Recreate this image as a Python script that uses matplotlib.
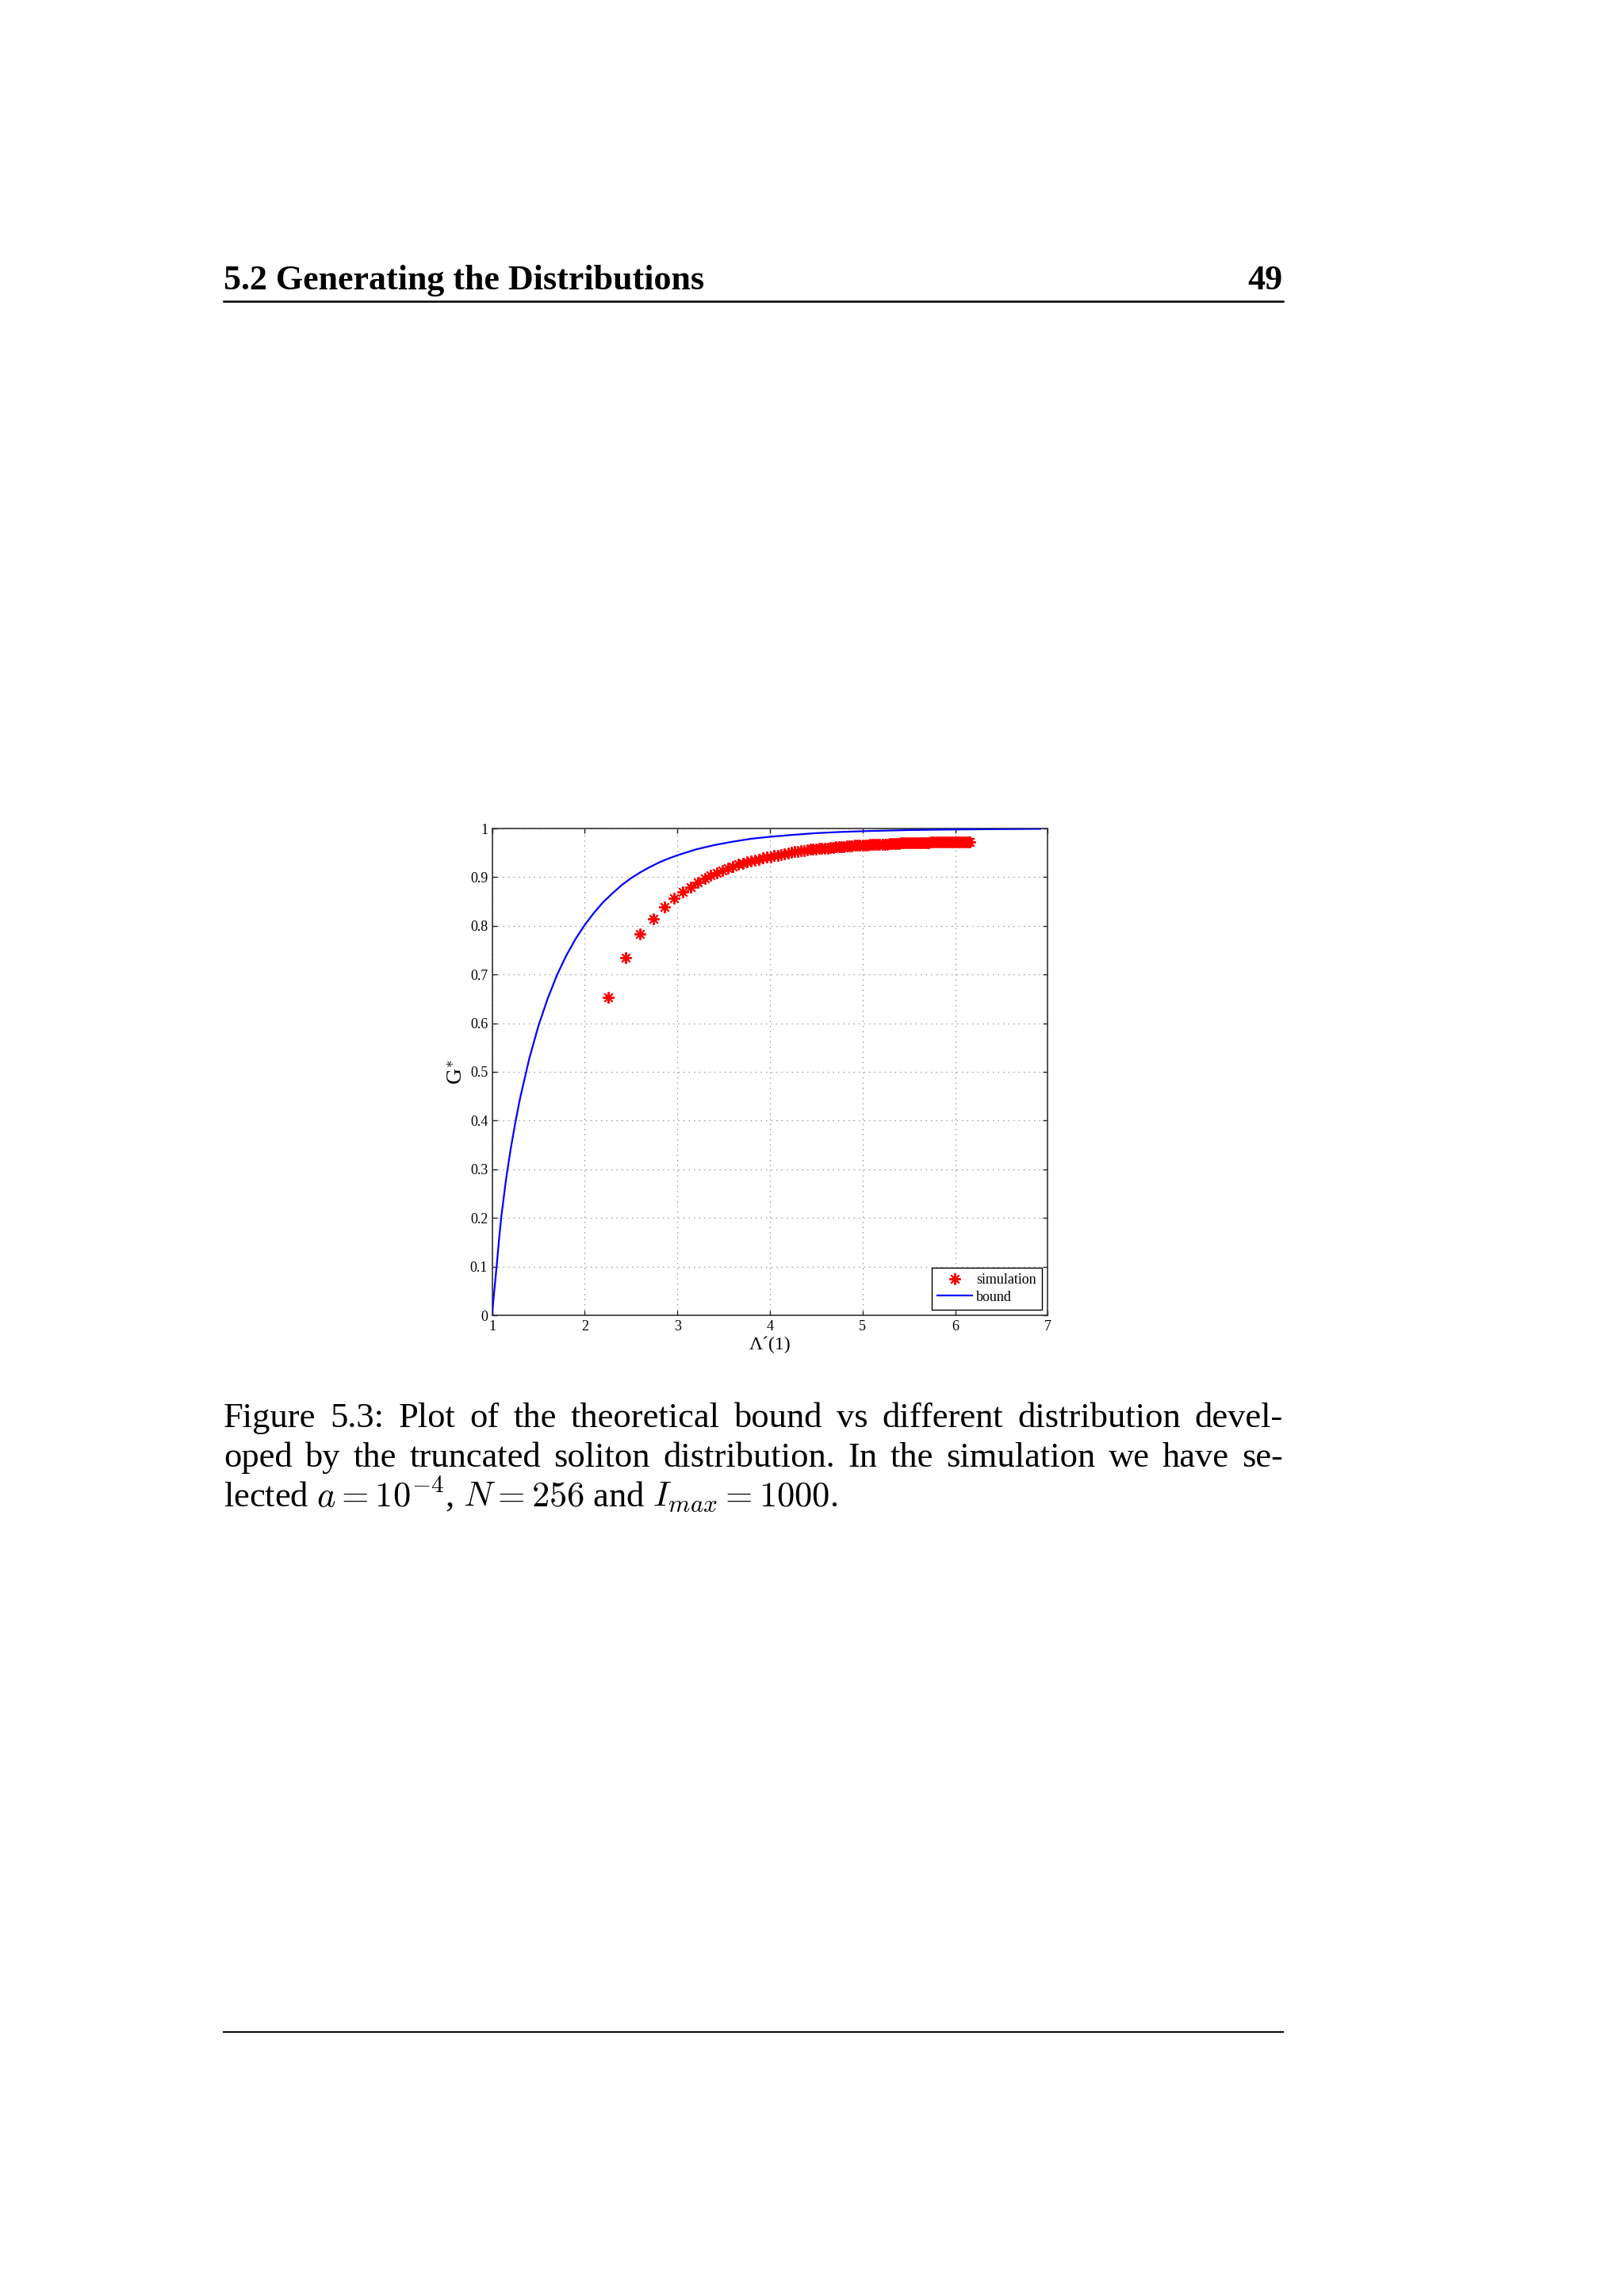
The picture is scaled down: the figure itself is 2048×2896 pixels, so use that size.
import matplotlib
matplotlib.use("Agg")
import matplotlib.pyplot as plt
from matplotlib.lines import Line2D

plt.rcParams['mathtext.fontset'] = 'cm'
SERIF = ['Liberation Serif', 'DejaVu Serif']

# ---------------- data ----------------
bound_x = [1.0, 1.01, 1.025, 1.05, 1.075, 1.1, 1.15, 1.2, 1.25, 1.3, 1.4, 1.5, 1.6, 1.7, 1.8,
           1.9, 2.0, 2.1, 2.2, 2.3, 2.4, 2.5, 2.6, 2.7, 2.8, 2.9, 3.0, 3.2, 3.4, 3.6, 3.8, 4.0,
           4.25, 4.5, 4.75, 5.0, 5.5, 6.0, 6.5, 6.92]
bound_y = [0.0, 0.025, 0.055, 0.105, 0.158, 0.205, 0.280, 0.342, 0.396, 0.445, 0.527, 0.595,
           0.651, 0.699, 0.739, 0.773, 0.802, 0.827, 0.849, 0.867, 0.884, 0.898, 0.910, 0.9205,
           0.930, 0.938, 0.945, 0.957, 0.966, 0.973, 0.979, 0.983, 0.987, 0.9905, 0.9928,
           0.9945, 0.9968, 0.998, 0.9988, 0.9993]

sim_x = [2.255, 2.443, 2.599, 2.737, 2.858, 2.962, 3.055, 3.141, 3.217, 3.295, 3.360, 3.423,
         3.486, 3.543, 3.600, 3.654, 3.705,
         3.750, 3.795, 3.839, 3.882, 3.924, 3.965, 4.005, 4.044, 4.082, 4.120, 4.157, 4.193,
         4.229, 4.264, 4.299, 4.333, 4.367, 4.400, 4.433, 4.465, 4.497, 4.529, 4.560, 4.591,
         4.622, 4.652, 4.682, 4.712, 4.742, 4.771, 4.800, 4.829, 4.858, 4.886, 4.914, 4.942,
         4.970, 4.998, 5.025, 5.052, 5.079, 5.106, 5.133, 5.160, 5.186, 5.212, 5.238, 5.264,
         5.290, 5.316, 5.342, 5.367, 5.392, 5.417, 5.442, 5.467, 5.492, 5.517, 5.542, 5.567,
         5.592, 5.617, 5.642, 5.667, 5.692, 5.717, 5.742, 5.767, 5.792, 5.817, 5.842, 5.867,
         5.892, 5.917, 5.942, 5.967, 5.992, 6.017, 6.042, 6.067, 6.092, 6.117, 6.140, 6.160]
sim_y = [0.653, 0.734, 0.783, 0.815, 0.838, 0.856, 0.869, 0.880, 0.890, 0.897, 0.904, 0.909,
         0.914, 0.919, 0.922, 0.926, 0.929,
         0.931, 0.933, 0.935, 0.937, 0.939, 0.941, 0.942, 0.944, 0.945, 0.947, 0.948, 0.950,
         0.951, 0.952, 0.953, 0.954, 0.955, 0.956, 0.957, 0.957, 0.958, 0.959, 0.959, 0.960,
         0.960, 0.961, 0.961, 0.962, 0.962, 0.963, 0.963, 0.964, 0.964, 0.964, 0.965, 0.965,
         0.965, 0.966, 0.966, 0.966, 0.967, 0.967, 0.967, 0.967, 0.968, 0.968, 0.968, 0.968,
         0.969, 0.969, 0.969, 0.969, 0.969, 0.970, 0.970, 0.970, 0.970, 0.970, 0.970, 0.971,
         0.971, 0.971, 0.971, 0.971, 0.971, 0.971, 0.972, 0.972, 0.972, 0.972, 0.972, 0.972,
         0.972, 0.972, 0.973, 0.973, 0.973, 0.973, 0.973, 0.973, 0.973, 0.973, 0.973, 0.973]

x_ticks = [1, 2, 3, 4, 5, 6, 7]
x_ticklabels = ['1', '2', '3', '4', '5', '6', '7']
y_ticks = [0, 0.1, 0.2, 0.3, 0.4, 0.5, 0.6, 0.7, 0.8, 0.9, 1.0]
y_ticklabels = ['0', '0.1', '0.2', '0.3', '0.4', '0.5', '0.6', '0.7', '0.8', '0.9', '1']

header_text = '5.2 Generating the Distributions'
page_number = '49'
caption_lines = [
    'Figure 5.3: Plot of the theoretical bound vs different distribution devel-',
    'oped by the truncated soliton distribution. In the simulation we have se-',
]
caption_last = r'lected $a = 10^{-4}$, $N = 256$ and $I_{max} = 1000$.'
legend_labels = ['simulation', 'bound']

# ---------------- figure ----------------
W, H = 2048, 2896
DPI = 200
fig = plt.figure(figsize=(W / DPI, H / DPI), dpi=DPI, facecolor='white')

ax = fig.add_axes([620.7 / W, 1 - 1659 / H, 700.6 / W, 614 / H])
ax.set_xlim(1, 7)
ax.set_ylim(0, 1)

ax.plot(sim_x, sim_y, linestyle='none', marker=(8, 2, 0), markersize=5.2,
        markeredgewidth=0.7, color=(1, 0, 0), label=legend_labels[0], zorder=3)
ax.plot(bound_x, bound_y, color=(0, 0, 1), linewidth=0.8, label=legend_labels[1], zorder=4)

ax.set_xticks(x_ticks)
ax.set_xticklabels(x_ticklabels, family=SERIF, fontsize=6.5)
ax.set_yticks(y_ticks)
ax.set_yticklabels(y_ticklabels, family=SERIF, fontsize=6.5)
ax.tick_params(direction='in', length=2.0, width=0.5, top=True, right=True, pad=2.0, colors='#222222')
ax.tick_params(labelcolor='black')
ax.grid(True, color='#9a9a9a', linestyle=(0, (1.2, 4.0)), linewidth=0.45)
for s in ax.spines.values():
    s.set_linewidth(0.6)
    s.set_color('#333333')

ax.set_xlabel('Λ´(1)', family=SERIF, fontsize=8.5, labelpad=1.5)
ax.set_ylabel(r'G$^{*}$', family=SERIF, fontsize=10, labelpad=1.5)

leg = ax.legend(loc='lower right', prop={'family': SERIF, 'size': 6.5}, frameon=True, fancybox=False,
                edgecolor='black', framealpha=1, borderaxespad=0.4, handlelength=2.4,
                handletextpad=0.3, borderpad=0.4, labelspacing=0.25)
leg.get_frame().set_linewidth(0.5)

# ---------------- page text ----------------
renderer = fig.canvas.get_renderer()
x0, x1 = 282, 1618

# header, fitted to its width in the reference
hdr = fig.text(x0 / W, 1 - 365 / H, header_text, family=SERIF, fontweight='bold',
               fontsize=10, va='baseline', ha='left')
wid = hdr.get_window_extent(renderer).width
hfs = 10 * 606 / wid
hdr.set_fontsize(hfs)
fig.text(x1 / W, 1 - 365 / H, page_number, family=SERIF, fontweight='bold',
         fontsize=hfs, va='baseline', ha='right')
fig.add_artist(Line2D([x0 / W, x1 / W], [1 - 380 / H, 1 - 380 / H], color='black', linewidth=0.9))

# caption, justified lines
cfs = 16.0
baselines = [1800, 1850, 1899]
for line, yb in zip(caption_lines, baselines[:2]):
    words = line.split(' ')
    texts = [fig.text(0, 1 - yb / H, w, family=SERIF, fontsize=cfs, va='baseline', ha='left')
             for w in words]
    widths = [t.get_window_extent(renderer).width for t in texts]
    gap = ((x1 - x0) - sum(widths)) / (len(words) - 1)
    xc = x0
    for t, wd in zip(texts, widths):
        t.set_x(xc / W)
        xc += wd + gap
fig.text(x0 / W, 1 - baselines[2] / H, caption_last, family=SERIF, fontsize=cfs,
         va='baseline', ha='left')

fig.add_artist(Line2D([x0 / W, x1 / W], [1 - 2563 / H, 1 - 2563 / H], color='black', linewidth=0.7))

fig.savefig('out.png', dpi=DPI, facecolor='white')
